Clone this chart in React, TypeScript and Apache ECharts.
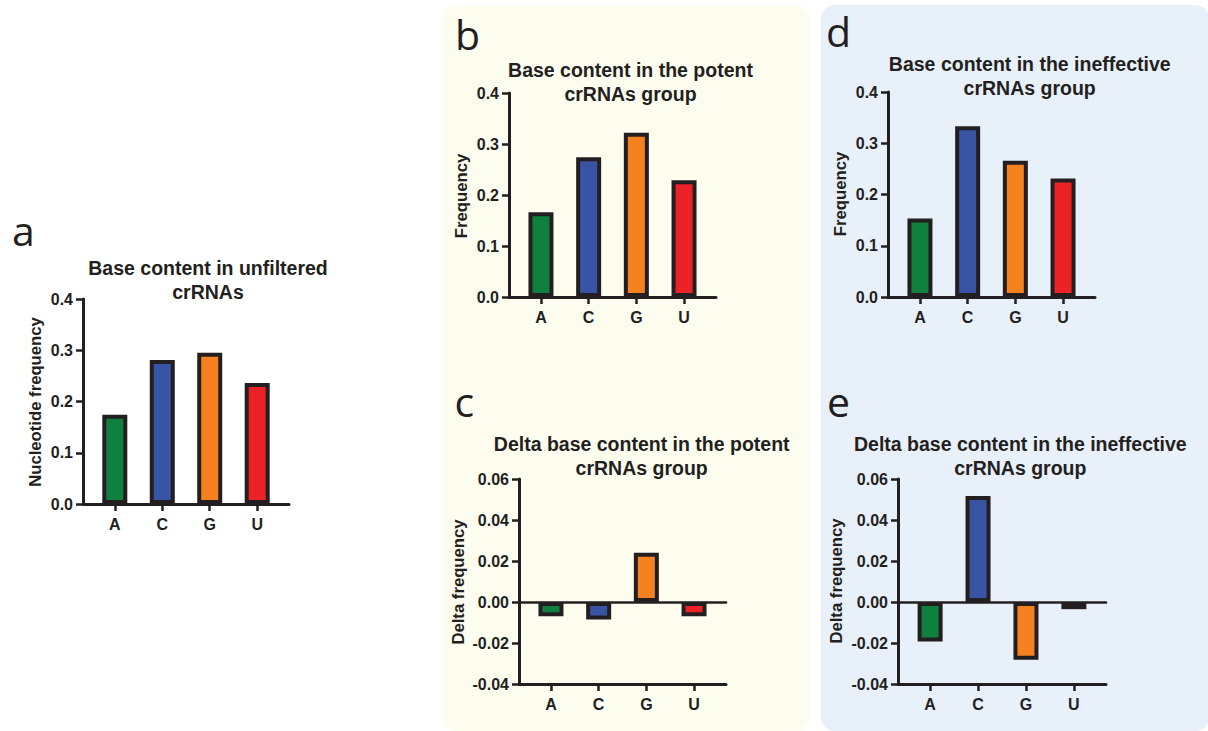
import React, { useEffect, useRef } from 'react';
import * as echarts from 'echarts';

const categories = ['A', 'C', 'G', 'U'];
const baseColors = ['#10803f', '#3a54a5', '#f5821f', '#ec2227'];

const unfilteredFreq = [0.174, 0.281, 0.295, 0.236];
const potentFreq = [0.166, 0.274, 0.322, 0.229];
const potentDelta = [-0.007, -0.0085, 0.024, -0.007];
const ineffectiveFreq = [0.153, 0.333, 0.266, 0.231];
const ineffectiveDelta = [-0.0193, 0.0517, -0.0282, -0.0035];

const INK = '#231f20';
const FONT = '"Liberation Sans", Arial, sans-serif';

const panels = [
  { letter: 'a', title: 'Base content in unfiltered\ncrRNAs', yName: 'Nucleotide frequency', values: unfilteredFreq, delta: false,
    grid: { left: 83, top: 299, width: 206, height: 205 }, titleX: 208, titleY: 256, nameX: 35.5, nameY: 402, letterX: 12, letterY: 230 },
  { letter: 'b', title: 'Base content in the potent\ncrRNAs group', yName: 'Frequency', values: potentFreq, delta: false,
    grid: { left: 509, top: 93, width: 207, height: 204 }, titleX: 630.5, titleY: 58, nameX: 461.7, nameY: 196, letterX: 455, letterY: 34 },
  { letter: 'c', title: 'Delta base content in the potent\ncrRNAs group', yName: 'Delta frequency', values: potentDelta, delta: true,
    grid: { left: 519, top: 479, width: 207, height: 205 }, titleX: 641.7, titleY: 431.5, nameX: 458, nameY: 582, letterX: 454.5, letterY: 401 },
  { letter: 'd', title: 'Base content in the ineffective\ncrRNAs group', yName: 'Frequency', values: ineffectiveFreq, delta: false,
    grid: { left: 888, top: 92, width: 207, height: 205 }, titleX: 1029.7, titleY: 52, nameX: 840, nameY: 194, letterX: 826, letterY: 31 },
  { letter: 'e', title: 'Delta base content in the ineffective\ncrRNAs group', yName: 'Delta frequency', values: ineffectiveDelta, delta: true,
    grid: { left: 898, top: 479, width: 208, height: 205 }, titleX: 1020.3, titleY: 432, nameX: 836.5, nameY: 581, letterX: 827, letterY: 401 },
];

export default function App() {
  const ref = useRef<HTMLDivElement>(null);
  useEffect(() => {
    if (!ref.current) return;
    const chart = echarts.init(ref.current, undefined, { renderer: 'svg' });

    const graphic: any[] = [
      { type: 'rect', z: -10, shape: { x: 443, y: 5, width: 366, height: 726, r: 14 }, style: { fill: '#fcfcef' } },
      { type: 'rect', z: -10, shape: { x: 821, y: 5, width: 388, height: 726, r: 14 }, style: { fill: '#e8f0fa' } },
    ];
    panels.forEach((p) => {
      graphic.push({ type: 'text', z: 10, x: p.letterX, y: p.letterY,
        style: { text: p.letter, fill: INK, font: '41px "Open Sans", sans-serif', align: 'left', verticalAlign: 'middle' } });
      graphic.push({ type: 'text', z: 10, x: p.titleX, y: p.titleY,
        style: { text: p.title, fill: INK, fontFamily: FONT, fontWeight: 'bold', fontSize: 19.5, lineHeight: 24, align: 'center', verticalAlign: 'top' } });
      graphic.push({ type: 'text', z: 10, x: p.nameX, y: p.nameY, rotation: Math.PI / 2,
        style: { text: p.yName, fill: INK, fontFamily: FONT, fontWeight: 'bold', fontSize: 16.7, align: 'center', verticalAlign: 'middle' } });
    });

    const axisLine = { show: true, lineStyle: { color: INK, width: 3 } };
    const axisTick = { show: true, length: 7, lineStyle: { color: INK, width: 2.5 } };
    const labelStyle = { color: INK, fontFamily: FONT, fontWeight: 'bold' as const, fontSize: 16 };

    const xAxes: any[] = panels.map((p, i) => ({
      type: 'value', gridIndex: i, min: -0.67, max: 3.67, position: 'bottom',
      axisLine: { ...axisLine, onZero: false },
      axisTick: { ...axisTick, customValues: [0, 1, 2, 3] },
      axisLabel: { ...labelStyle, margin: 12, customValues: [0, 1, 2, 3], formatter: (v: number) => categories[Math.round(v)] ?? '' },
      splitLine: { show: false },
    }));
    // zero baseline for the delta panels
    panels.forEach((p, i) => {
      if (!p.delta) return;
      xAxes.push({
        type: 'value', gridIndex: i, min: -0.67, max: 3.67, position: 'top',
        axisLine: { show: true, onZero: true, lineStyle: { color: INK, width: 2.5 } },
        axisTick: { show: false }, axisLabel: { show: false }, splitLine: { show: false },
      });
    });

    const option: any = {
      animation: false,
      graphic,
      grid: panels.map((p) => ({ ...p.grid, containLabel: false })),
      xAxis: xAxes,
      yAxis: panels.map((p, i) => ({
        type: 'value', gridIndex: i,
        min: p.delta ? -0.04 : 0, max: p.delta ? 0.06 : 0.4, interval: p.delta ? 0.02 : 0.1,
        axisLine: { ...axisLine, onZero: false },
        axisTick,
        axisLabel: { ...labelStyle, margin: 10, formatter: (v: number) => v.toFixed(p.delta ? 2 : 1) },
        splitLine: { show: false },
      })),
      series: panels.map((p, i) => ({
        type: 'bar', xAxisIndex: i, yAxisIndex: i, barWidth: 25,
        data: p.values.map((v, k) => ({ value: [k, v], itemStyle: { color: baseColors[k], borderColor: INK, borderWidth: 4 } })),
      })),
    };
    chart.setOption(option);
    return () => chart.dispose();
  }, []);
  return <div ref={ref} style={{ position: 'absolute', left: 0, top: 0, width: 1208, height: 731 }} />;
}
